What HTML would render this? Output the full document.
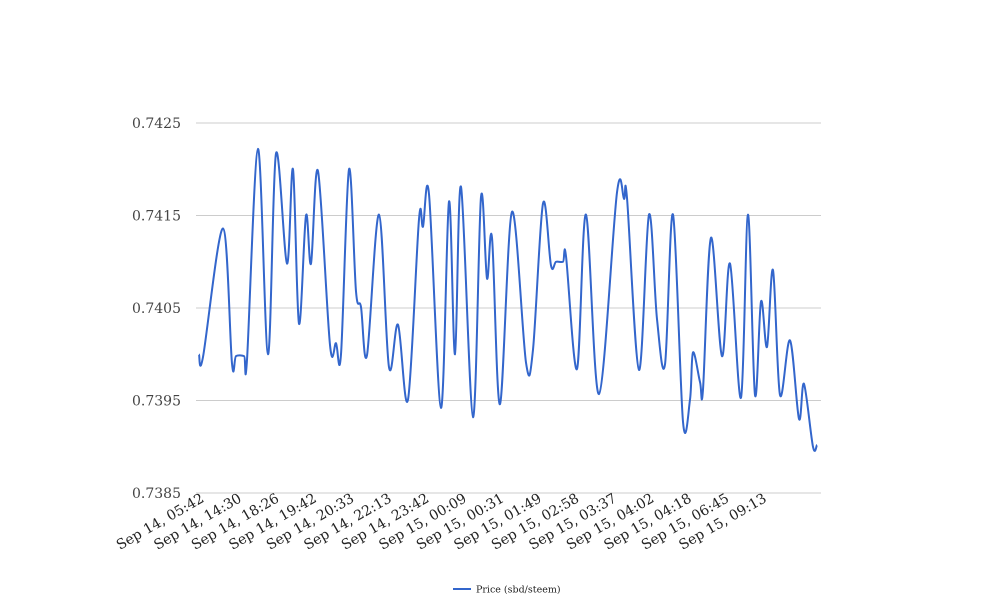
<!DOCTYPE html>
<html><head><meta charset="utf-8"><style>
html,body{margin:0;padding:0;background:#fff;}
svg{display:block;font-family:"DejaVu Serif","Liberation Serif",serif;}
</style></head><body>
<svg id="chart" width="1008" height="616" viewBox="0 0 1008 616" xmlns="http://www.w3.org/2000/svg">
<g id="grid"></g>
<g id="yticks"></g>
<g id="xticks"></g>
<path id="line" fill="none" stroke="#3366cc" stroke-width="2"/>
<g>
<line x1="453" y1="589" x2="471" y2="589" stroke="#3366cc" stroke-width="2"/>
<text x="476" y="592.5" font-size="9.5" fill="#222">Price (sbd/steem)</text>
</g>
</svg>
<script>
const yTicks = [0.7385, 0.7395, 0.7405, 0.7415, 0.7425];
const yTickLabels = ["0.7385", "0.7395", "0.7405", "0.7415", "0.7425"];
const xLabels = ["Sep 14, 05:42","Sep 14, 14:30","Sep 14, 18:26","Sep 14, 19:42","Sep 14, 20:33","Sep 14, 22:13","Sep 14, 23:42","Sep 15, 00:09","Sep 15, 00:31","Sep 15, 01:49","Sep 15, 02:58","Sep 15, 03:37","Sep 15, 04:02","Sep 15, 04:18","Sep 15, 06:45","Sep 15, 09:13","Sep 15, 11:06"];
const sampleIndex = [0,4,24,33,37,45,48,59,69,77,88,94,100,107,112,119,131,137,142,150,157,162,168,180,190,199,209,220,224,230,242,250,256,262,274,282,288,293,301,313,327,334,344,352,357,364,367,378,387,400,418,425,428,440,450,458,466,474,484,491,494,501,504,512,523,531,542,549,556,562,568,574,581,591,600,605,614,618];
const prices = [0.74000,0.73997,0.74136,0.73990,0.73998,0.73998,0.73994,0.74222,0.74000,0.74217,0.74098,0.74200,0.74033,0.74150,0.74098,0.74198,0.74010,0.74012,0.74000,0.74200,0.74068,0.74051,0.73999,0.74151,0.73986,0.74032,0.73951,0.74146,0.74138,0.74173,0.73942,0.74165,0.74000,0.74181,0.73932,0.74170,0.74082,0.74126,0.73946,0.74154,0.73991,0.74005,0.74163,0.74096,0.74100,0.74100,0.74106,0.73984,0.74151,0.73957,0.74175,0.74168,0.74169,0.73983,0.74151,0.74038,0.73989,0.74151,0.73927,0.73951,0.74002,0.73970,0.73962,0.74126,0.73998,0.74098,0.73953,0.74151,0.73956,0.74057,0.74008,0.74091,0.73956,0.74015,0.73930,0.73968,0.73900,0.73902];
const NS="http://www.w3.org/2000/svg";
const X0=199, X1=817, YB=493, YT=123, yMin=0.7385, yMax=0.7425;
const maxIdx = sampleIndex[sampleIndex.length-1];
function xs(i){return X0+(i/maxIdx)*(X1-X0);}
function ys(v){return YB-(v-yMin)/(yMax-yMin)*(YB-YT);}
const grid=document.getElementById('grid'), yt=document.getElementById('yticks'), xt=document.getElementById('xticks');
yTicks.forEach((v,k)=>{
 const l=document.createElementNS(NS,'line');
 
 
 l.setAttribute('x1',196);l.setAttribute('x2',821);l.setAttribute('y1',ys(v));l.setAttribute('y2',ys(v));
 l.setAttribute('stroke','#cccccc');l.setAttribute('stroke-width','1');
 grid.appendChild(l);
 const t=document.createElementNS(NS,'text');
 
 
 t.setAttribute('x',181);t.setAttribute('y',ys(v)+5);t.setAttribute('text-anchor','end');
 t.setAttribute('font-size','14');t.setAttribute('fill','#444');
 t.textContent=yTickLabels[k];yt.appendChild(t);
});
xLabels.forEach((s,k)=>{
 const ex=205+k*37.5, ey=501;
 if(k>=16) return;
 const t=document.createElementNS(NS,'text');
 
 
 t.setAttribute('x',ex);t.setAttribute('y',ey);t.setAttribute('text-anchor','end');
 t.setAttribute('font-size','14');t.setAttribute('fill','#222');
 t.setAttribute('transform','rotate(-30 '+ex+' '+ey+')');
 t.textContent=s;xt.appendChild(t);
});
const P=sampleIndex.map((i,k)=>[xs(i),ys(prices[k])]);
let d='M'+P[0][0].toFixed(1)+','+P[0][1].toFixed(1);
for(let k=0;k<P.length-1;k++){
 const p0=P[Math.max(0,k-1)],p1=P[k],p2=P[k+1],p3=P[Math.min(P.length-1,k+2)];
 const t=0.5/3;
 const c1=[p1[0]+(p2[0]-p0[0])*t,p1[1]+(p2[1]-p0[1])*t];
 const c2=[p2[0]-(p3[0]-p1[0])*t,p2[1]-(p3[1]-p1[1])*t];
 d+=' C'+c1[0].toFixed(1)+','+c1[1].toFixed(1)+' '+c2[0].toFixed(1)+','+c2[1].toFixed(1)+' '+p2[0].toFixed(1)+','+p2[1].toFixed(1);
}
document.getElementById('line').setAttribute('d',d);
</script>
</body></html>
